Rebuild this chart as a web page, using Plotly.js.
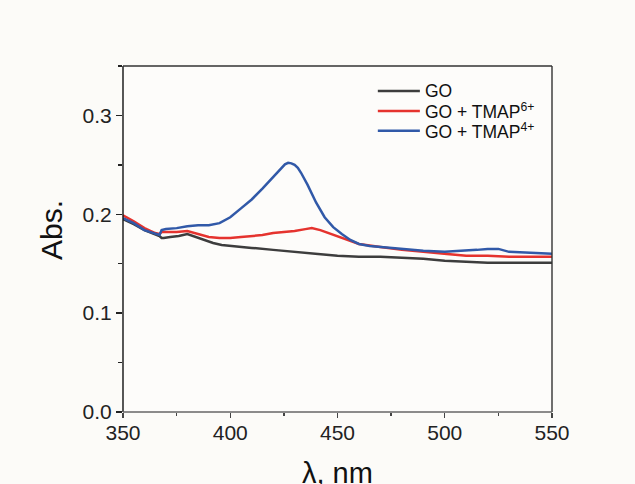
<!DOCTYPE html>
<html>
<head>
<meta charset="utf-8">
<script src="https://cdn.plot.ly/plotly-3.0.1.min.js"></script>
<style>html,body{margin:0;padding:0;background:#fcfbf8;}#chart{width:635px;height:484px;}</style>
</head>
<body>
<div id="chart"></div>
<script>
// Wavelength (nm) and absorbance values
const goX = [350, 355, 360, 365, 367, 368, 369, 372, 376, 380, 384, 388, 392, 396, 400, 410, 420, 430, 440, 450, 460, 470, 480, 490, 500, 510, 520, 530, 540, 550];
const goY = [0.195, 0.190, 0.184, 0.180, 0.178, 0.176, 0.176, 0.177, 0.178, 0.180, 0.177, 0.174, 0.171, 0.169, 0.168, 0.166, 0.164, 0.162, 0.160, 0.158, 0.157, 0.157, 0.156, 0.155, 0.153, 0.152, 0.151, 0.151, 0.151, 0.151];

const tmap6X = [350, 355, 360, 365, 367, 368, 370, 375, 380, 385, 390, 395, 400, 405, 410, 415, 420, 425, 430, 435, 438, 442, 446, 450, 455, 460, 470, 480, 490, 500, 510, 520, 530, 540, 550];
const tmap6Y = [0.199, 0.193, 0.186, 0.181, 0.180, 0.182, 0.182, 0.182, 0.183, 0.180, 0.177, 0.176, 0.176, 0.177, 0.178, 0.179, 0.181, 0.182, 0.183, 0.185, 0.186, 0.184, 0.181, 0.178, 0.174, 0.170, 0.167, 0.164, 0.162, 0.160, 0.158, 0.158, 0.157, 0.157, 0.157];

const tmap4X = [350, 355, 360, 365, 367, 368, 370, 375, 380, 385, 390, 395, 400, 405, 410, 415, 420, 422, 424, 425.5, 427, 428.5, 430, 431.5, 433, 436, 440, 444, 448, 452, 456, 460, 465, 470, 480, 490, 500, 510, 515, 520, 525, 530, 540, 550];
const tmap4Y = [0.196, 0.191, 0.184, 0.180, 0.179, 0.184, 0.185, 0.186, 0.188, 0.189, 0.189, 0.191, 0.197, 0.206, 0.215, 0.226, 0.238, 0.243, 0.248, 0.2505, 0.252, 0.2515, 0.250, 0.247, 0.242, 0.230, 0.212, 0.197, 0.187, 0.180, 0.174, 0.170, 0.168, 0.167, 0.165, 0.163, 0.162, 0.163, 0.164, 0.165, 0.165, 0.162, 0.161, 0.160];

const seriesNames = ['GO', 'GO + TMAP<sup>6+</sup>', 'GO + TMAP<sup>4+</sup>'];
const seriesColors = ['#3d3d3d', '#e5332e', '#3159a8'];
const xTickVals = [350, 400, 450, 500, 550];
const yTickVals = [0.0, 0.1, 0.2, 0.3];
const yTickText = ['0.0', '0.1', '0.2', '0.3'];
const xTitle = 'λ, nm';
const yTitle = 'Abs.';

const font = 'Liberation Sans, Arial, sans-serif';

const xs = [goX, tmap6X, tmap4X];
const ys = [goY, tmap6Y, tmap4Y];
const traces = xs.map((x, i) => ({
  x: x, y: ys[i], name: seriesNames[i], mode: 'lines',
  line: {color: seriesColors[i], width: 2.5}, showlegend: false
}));

// Plot frame, one side at a time
const frameSides = [
  {x0: 0, x1: 0, y0: 0, y1: 1, color: '#111'},
  {x0: 1, x1: 1, y0: 0, y1: 1, color: '#333'},
  {x0: 0, x1: 1, y0: 0, y1: 0, color: '#666'},
  {x0: 0, x1: 1, y0: 1, y1: 1, color: '#333'}
];
const shapes = frameSides.map(s => ({
  type: 'line', xref: 'paper', yref: 'paper', x0: s.x0, x1: s.x1, y0: s.y0, y1: s.y1,
  line: {color: s.color, width: 1.4}, layer: 'above'
}));
const annotations = [
  {xref: 'paper', yref: 'paper', x: -0.168, y: 0.526, xanchor: 'center', yanchor: 'middle',
   textangle: -90, showarrow: false, text: yTitle, font: {family: font, size: 30, color: '#111'}},
  {xref: 'paper', yref: 'paper', x: 0.5, y: -0.124, xanchor: 'center', yanchor: 'top',
   showarrow: false, text: xTitle, font: {family: font, size: 29, color: '#111'}}
];

// Legend drawn as paper-anchored sample lines and labels
const legendRowsY = [0.928, 0.870, 0.813];
seriesNames.forEach((n, i) => {
  shapes.push({type: 'line', xref: 'paper', yref: 'paper', x0: 0.594, x1: 0.692,
    y0: legendRowsY[i], y1: legendRowsY[i], line: {color: seriesColors[i], width: 2.5}});
  annotations.push({xref: 'paper', yref: 'paper', x: 0.700, y: legendRowsY[i],
    xanchor: 'left', yanchor: 'middle', showarrow: false, text: n,
    font: {family: font, size: 17.5, color: '#111'}});
});

const layout = {
  width: 635, height: 484,
  margin: {l: 123, r: 83, t: 66, b: 72, pad: 0},
  paper_bgcolor: '#fcfbf8',
  plot_bgcolor: '#fdfcfa',
  font: {family: font, color: '#222'},
  showlegend: false,
  shapes: shapes,
  annotations: annotations,
  xaxis: {
    range: [350, 550], showgrid: false, zeroline: false,
    showline: false,
    ticks: 'outside', ticklen: 5, tickwidth: 1.3, tickcolor: '#444',
    ticklabelstandoff: -3,
    tickvals: xTickVals, tickfont: {family: font, size: 21, color: '#222'},
    minor: {dtick: 25, tick0: 350, ticks: 'outside', ticklen: 3, tickwidth: 1.3, tickcolor: '#444', showgrid: false}
  },
  yaxis: {
    range: [0, 0.35], showgrid: false, zeroline: false,
    showline: false,
    ticks: 'outside', ticklen: 6, tickwidth: 1.3, tickcolor: '#222',
    tickvals: yTickVals, ticktext: yTickText, tickfont: {family: font, size: 21, color: '#222'},
    minor: {dtick: 0.05, tick0: 0, ticks: 'outside', ticklen: 4, tickwidth: 1.3, tickcolor: '#222', showgrid: false}
  }
};

Plotly.newPlot('chart', traces, layout, {displayModeBar: false, staticPlot: true});
</script>
</body>
</html>
